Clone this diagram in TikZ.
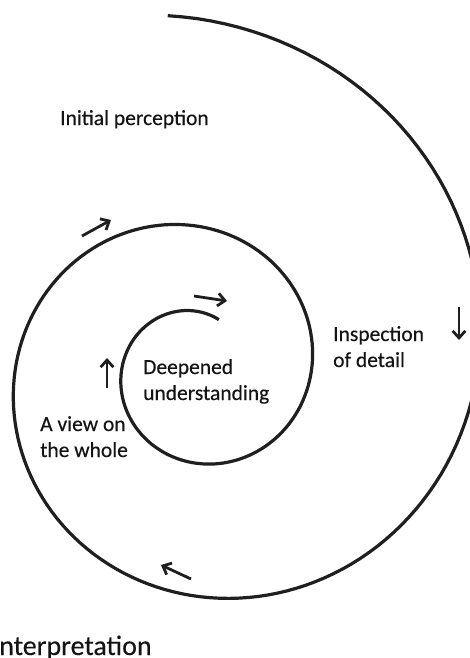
\documentclass[tikz,border=0pt]{standalone}
\usepackage{fontspec}
\setmainfont{Carlito}[FakeBold=0.3]
\usetikzlibrary{arrows.meta}
\begin{document}
\begin{tikzpicture}[x=1pt,y=-1pt,
  spiralline/.style={line width=3.2pt, draw=black!88},
  dirarrow/.style={line width=2.8pt, draw=black!88, -{Straight Barb[angle=84:9.5pt]}},
  lbl/.style={anchor=base west, inner sep=0pt, font=\fontsize{21.5}{26}\selectfont, text=black!92},
  biglbl/.style={anchor=base west, inner sep=0pt, font=\fontsize{28}{32}\selectfont, text=black!92}]
\useasboundingbox (0,0) rectangle (470,658);
\clip (0,0) rectangle (470,658);
% spiral
\draw[spiralline] plot[domain=-4.5:744.5, samples=320, variable=\t]
  ({195.7+352*exp(-0.0024794*\t)*sin(\t)}, {370.5-352*exp(-0.0024794*\t)*cos(\t)});
% labels
\node[lbl] (initial) at (60,125) {Initial perception};
\node[lbl] (insp1) at (333,341) {Inspection};
\node[lbl] (insp2) at (333,367) {of detail};
\node[lbl] (deep1) at (143,374) {Deepened};
\node[lbl] (deep2) at (143,400) {understanding};
\node[lbl] (view1) at (40,431) {A view on};
\node[lbl] (view2) at (40,457) {the whole};
\node[biglbl] (interp) at (-8,655) {Interpretation};
% direction arrows
\coordinate (a1s) at (82,236);  \coordinate (a1e) at (111,220);
\coordinate (a2s) at (194,296); \coordinate (a2e) at (227,301);
\coordinate (a3s) at (107,388); \coordinate (a3e) at (107,358);
\coordinate (a4s) at (459,307); \coordinate (a4e) at (459,340);
\coordinate (a5s) at (191,579); \coordinate (a5e) at (161,565);
\draw[dirarrow] (a1s) -- (a1e);
\draw[dirarrow] (a2s) -- (a2e);
\draw[dirarrow] (a3s) -- (a3e);
\draw[dirarrow] (a4s) -- (a4e);
\draw[dirarrow] (a5s) -- (a5e);
\end{tikzpicture}
\end{document}
